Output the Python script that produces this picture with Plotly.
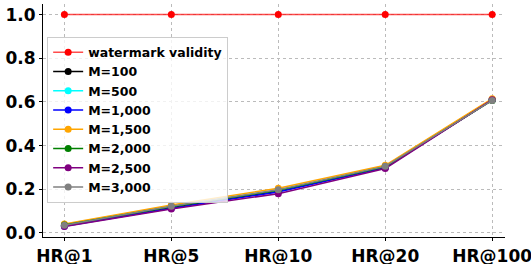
import plotly.graph_objects as go

categories = ["HR@1", "HR@5", "HR@10", "HR@20", "HR@100"]
validity = [1.0, 1.0, 1.0, 1.0, 1.0]
series_names = ["M=100", "M=500", "M=1,000", "M=1,500", "M=2,000", "M=2,500", "M=3,000"]
m100 = [0.035, 0.118, 0.192, 0.300, 0.610]
m500 = [0.037, 0.122, 0.196, 0.302, 0.610]
m1000 = [0.031, 0.113, 0.188, 0.299, 0.610]
m1500 = [0.041, 0.128, 0.205, 0.310, 0.615]
m2000 = [0.036, 0.120, 0.195, 0.303, 0.607]
m2500 = [0.030, 0.110, 0.180, 0.295, 0.610]
m3000 = [0.035, 0.122, 0.198, 0.305, 0.607]
series_values = [m100, m500, m1000, m1500, m2000, m2500, m3000]
colors = ["black", "cyan", "blue", "orange", "green", "purple", "gray"]

x = list(range(len(categories)))
fig = go.Figure()
fig.add_trace(go.Scatter(x=x, y=validity, mode="lines+markers", name="watermark validity",
                         line=dict(color="rgba(255,0,0,0.7)", width=1.5),
                         marker=dict(color="red", size=7)))
for n, v, c in zip(series_names, series_values, colors):
    fig.add_trace(go.Scatter(x=x, y=v, mode="lines+markers", name=n,
                             line=dict(color=c, width=1.5),
                             marker=dict(color=c, size=7)))

font = "DejaVu Sans"
fig.update_layout(
    width=531, height=264,
    margin=dict(l=43, r=26, t=4, b=27),
    plot_bgcolor="white", paper_bgcolor="white",
    showlegend=True,
    legend=dict(x=0.009, y=0.86, xanchor="left", yanchor="top",
                bgcolor="rgba(255,255,255,0.8)", bordercolor="#cccccc", borderwidth=1,
                font=dict(family=font, size=12.5, color="black", weight="bold"),
                tracegroupgap=0, itemwidth=30),
    xaxis=dict(range=[-0.2, 4.12], tickmode="array", tickvals=x, ticktext=categories,
               automargin=False, ticklabeloverflow="allow",
               showgrid=True, gridcolor="#bbbbbb", griddash="dot", gridwidth=1,
               showline=True, linecolor="black", linewidth=1.2,
               ticks="outside", ticklen=3, tickcolor="black", zeroline=False,
               tickfont=dict(family=font, size=17, color="black", weight="bold")),
    yaxis=dict(range=[-0.0185, 1.0485], tickmode="array",
               tickvals=[0, 0.2, 0.4, 0.6, 0.8, 1.0],
               ticktext=["0.0", "0.2", "0.4", "0.6", "0.8", "1.0"],
               automargin=False, ticklabeloverflow="allow",
               showgrid=True, gridcolor="#bbbbbb", griddash="dot", gridwidth=1,
               showline=True, linecolor="black", linewidth=1.2,
               ticks="outside", ticklen=3, tickcolor="black", zeroline=False,
               tickfont=dict(family=font, size=17, color="black", weight="bold")),
)
fig.write_html("out.html", config={"displayModeBar": False},
               post_script="document.body.style.margin='0';document.body.style.overflow='hidden';")
